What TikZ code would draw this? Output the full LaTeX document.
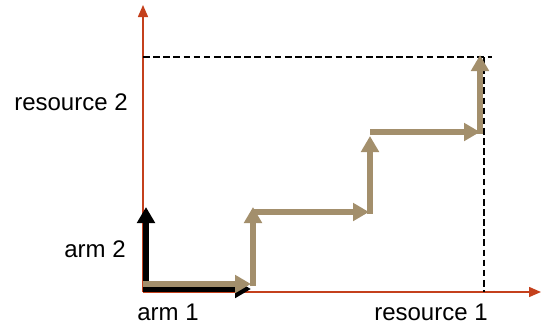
\documentclass[tikz,border=0pt]{standalone}
\usepackage{fontspec}
\setmainfont{Liberation Sans}
\usepackage{xcolor}
\usepackage{tikz}
\usetikzlibrary{arrows.meta, positioning}
\definecolor{axisred}{RGB}{196,64,28}
\definecolor{tan}{RGB}{163,143,108}
\tikzset{
    axis/.style={draw=axisred, line width=1.1pt, -{Triangle[length=9pt, width=7.5pt]}}, % the two resource axes
    bound/.style={draw=black, line width=0.9pt, dash pattern=on 5pt off 2.6pt}, % dashed limits
    armline/.style={draw=black, line width=4.4pt, -{Triangle[length=12pt, width=13pt]}}, % the two single arms
    stair/.style={draw=tan, line width=4.4pt, -{Triangle[length=12pt, width=13pt]}}, % the staircase of pulls
    lbl/.style={font=\fontsize{18}{21}\selectfont, inner sep=0pt}, % axis labels
}

\begin{document}
\begin{tikzpicture}[x=0.75pt, y=-0.75pt]
    \useasboundingbox (0,0) rectangle (543,326);

    % axes
    \coordinate (o) at (143,292);
    \coordinate (xend) at (541,292);
    \coordinate (yend) at (143,5);
    \draw[axis] (o) -- (xend);
    \draw[axis] (o) -- (yend);

    % limits
    \coordinate (ytop) at (143,57);
    \coordinate (corner) at (492,57);
    \coordinate (xtop) at (484,57);
    \coordinate (xfoot) at (484,292);
    \draw[bound] (ytop) -- (corner);
    \draw[bound] (xtop) -- (xfoot);

    % arms
    \coordinate (a0) at (146,292);
    \coordinate (a1) at (146,207);
    \coordinate (b0) at (143,289);
    \coordinate (b1) at (251,289);
    \draw[armline] (a0) -- (a1);
    \draw[armline] (b0) -- (b1);

    % staircase
    \coordinate (s0) at (143,284);
    \coordinate (s1) at (251,284);
    \coordinate (s2) at (253,286);
    \coordinate (s3) at (253,207);
    \coordinate (s4) at (253,212);
    \coordinate (s5) at (369,212);
    \coordinate (s6) at (370,214);
    \coordinate (s7) at (370,136);
    \coordinate (s8) at (370,132);
    \coordinate (s9) at (480,132);
    \coordinate (s10) at (480,134);
    \coordinate (s11) at (480,55);
    \foreach \p/\q in {s0/s1, s2/s3, s4/s5, s6/s7, s8/s9, s10/s11}
        \draw[stair] (\p) -- (\q);

    % labels
    \node[lbl] (res2) at (71,102) {resource 2};
    \node[lbl] (arm2) at (95,249) {arm 2};
    \node[lbl] (arm1) at (168,312) {arm 1};
    \node[lbl] (res1) at (431,312) {resource 1};
\end{tikzpicture}
\end{document}
